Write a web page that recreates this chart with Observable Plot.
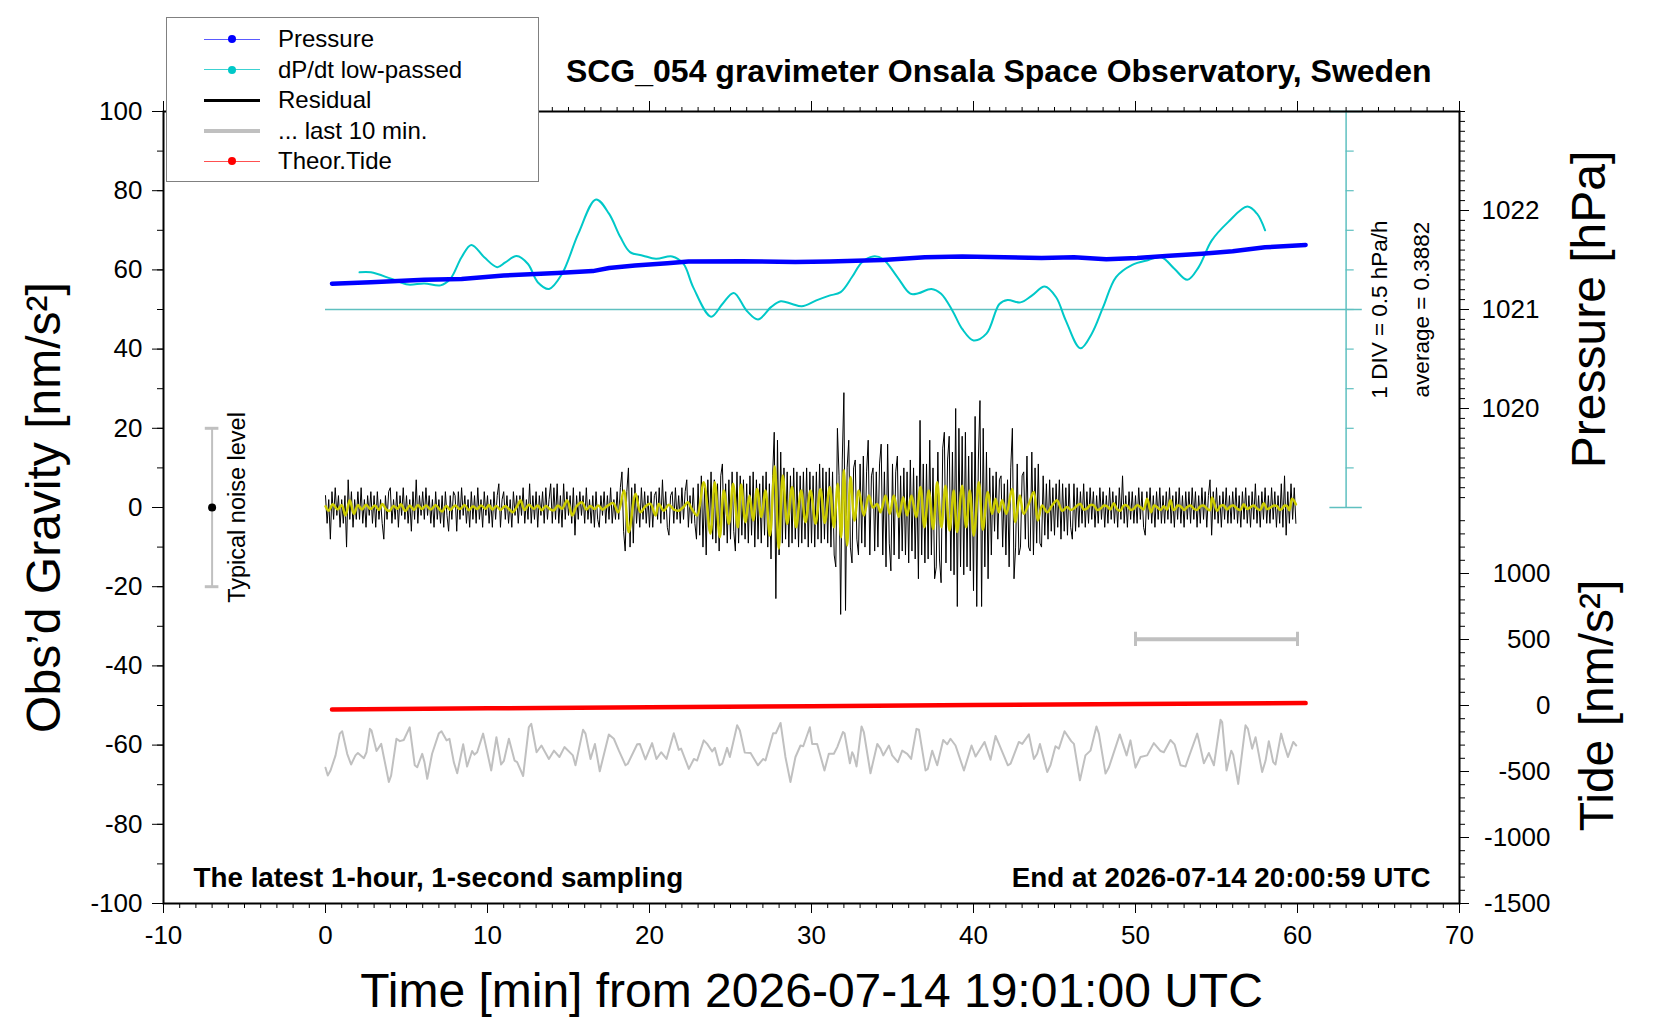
<!DOCTYPE html>
<html>
<head>
<meta charset="utf-8">
<script src="https://cdn.jsdelivr.net/npm/d3@7"></script>
<script src="https://cdn.jsdelivr.net/npm/@observablehq/plot@0.6"></script>
<style>
  body { margin: 0; background: #fff; }
  #wrap { position: relative; width: 1660px; height: 1020px; font-family: "Liberation Sans", Arial, Helvetica, sans-serif; }
  #legend { position: absolute; left: 166px; top: 17px; width: 373px; height: 165px; border: 1px solid #808080; background: #fff; box-sizing: border-box; }
  .row { position: absolute; left: 0; width: 100%; height: 30px; }
  .sym { position: absolute; left: 37px; width: 56px; top: 15px; }
  .dot { position: absolute; left: 61px; top: 11px; width: 8px; height: 8px; border-radius: 50%; }
  .lab { position: absolute; left: 111px; top: 0; line-height: 30px; font-size: 24px; color: #000; white-space: nowrap; }
</style>
</head>
<body>
<div id="wrap"><div id="chart"></div><div id="legend"></div></div>
<script>
// ---------------- data ----------------
const titleText = "SCG_054 gravimeter Onsala Space Observatory, Sweden";
const leftNote = "The latest 1-hour, 1-second sampling";
const rightNote = "End at 2026-07-14 20:00:59 UTC";
const xTitle = "Time [min] from 2026-07-14 19:01:00 UTC";
const yTitle = "Obs’d Gravity [nm/s²]";
const pressureTitle = "Pressure [hPa]";
const tideTitle = "Tide [nm/s²]";

const xMajorTicks = [-10, 0, 10, 20, 30, 40, 50, 60, 70];
const yMajorTicks = [-100, -80, -60, -40, -20, 0, 20, 40, 60, 80, 100];
const pressureMajorTicks = [1020, 1021, 1022];
const tideMajorTicks = [-1500, -1000, -500, 0, 500, 1000];

// axis mappings onto the gravity (left) scale
const pressureRange = [1015, 1023];   // hPa over the full frame height
const tideRange = [-1500, 4500];      // nm/s^2 over the full frame height
const dpdtAverage = 0.3882;           // hPa/h
const dpdtPerDiv = 0.5;               // hPa/h per division
const dpdtDivision = 10;              // gravity units per division
const dpdtAxisAt = 63;                // minutes

// Pressure [minute, hPa]
const pressure = [
  [0.4,1021.26],[2.8,1021.276],[6.1,1021.30],[8.4,1021.308],[11.0,1021.344],[14.3,1021.368],
  [16.5,1021.388],[17.5,1021.42],[19.1,1021.444],[21.1,1021.468],[22.4,1021.484],[25.7,1021.488],
  [29.0,1021.48],[31.1,1021.484],[34.4,1021.50],[37.0,1021.528],[39.3,1021.536],[41.9,1021.528],
  [44.2,1021.52],[46.2,1021.528],[48.2,1021.508],[50.1,1021.52],[52.1,1021.544],[54.1,1021.564],
  [56.0,1021.588],[58.0,1021.628],[60.5,1021.652]
];

// dP/dt low-passed [minute, hPa/h]
const dpdt = [
  [2.1,0.858],[2.8,0.858],[4.1,0.773],[5.1,0.703],[6.1,0.718],[7.1,0.693],[7.7,0.773],[8.4,1.048],
  [9.0,1.203],[9.8,1.048],[10.6,0.923],[11.1,0.983],[11.8,1.063],[12.5,0.963],[13.1,0.733],[13.8,0.648],
  [14.6,0.838],[15.6,1.343],[16.7,1.778],[17.5,1.598],[18.2,1.303],[18.8,1.113],[19.6,1.068],[20.4,1.028],
  [21.4,1.058],[22.1,0.963],[22.7,0.668],[23.8,0.298],[24.5,0.458],[25.2,0.598],[26.0,0.373],[26.7,0.263],
  [27.5,0.418],[28.1,0.493],[28.8,0.458],[29.4,0.428],[30.3,0.503],[31.1,0.563],[31.8,0.608],[32.5,0.798],
  [33.1,0.983],[33.8,1.058],[34.4,1.028],[35.3,0.798],[36.1,0.588],[36.6,0.593],[37.4,0.648],[38.0,0.588],
  [38.7,0.373],[39.3,0.143],[40.0,-0.002],[40.8,0.083],[41.6,0.458],[42.1,0.508],[42.9,0.478],[43.6,0.563],
  [44.4,0.678],[45.1,0.543],[45.7,0.248],[46.6,-0.102],[47.3,0.083],[48.0,0.418],[48.8,0.798],[49.8,0.953],
  [50.8,1.013],[51.6,1.048],[52.4,0.903],[53.2,0.763],[53.9,0.923],[54.7,1.258],[55.7,1.488],[56.9,1.688],
  [57.5,1.598],[58.0,1.388]
];

// Theoretical tide [minute, nm/s^2]
const tide = [[0.4,-30],[10,-21],[20,-13],[30,-5],[40,3],[50,11],[60.5,18]];

// Residual gravity, one value every 0.1 min [nm/s^2]
const residualStep = 0.1;
const residual = [
  3,-4,2,-8,4,-3,5,-2,3,-5,
  2,-4,3,-10,7,-3,4,-5,2,-3,
  4,-3,5,-4,2,-5,3,-2,4,-4,
  3,-5,4,-3,2,-4,-8,3,-3,4,
  5,-4,2,-3,4,-5,3,-2,5,-3,
  3,-4,2,-6,4,-3,7,-4,3,-2,
  4,-3,5,-2,3,-4,2,-5,4,-3,
  2,-4,3,-5,4,-2,-6,3,-3,4,
  3,-6,4,-3,5,-2,3,-4,2,-5,
  4,-3,3,-4,5,-3,2,-5,4,-2,
  3,-4,2,-5,4,-3,3,6,-5,2,
  4,-3,3,-4,2,-5,4,-2,3,-4,
  3,-2,5,-4,2,-3,6,-4,3,-3,
  4,-5,3,-2,4,-4,5,-3,2,6,
  -4,5,-3,6,-4,3,-5,6,-3,4,
  -2,3,-4,5,-7,3,-3,4,-2,3,
  -4,5,-3,2,-4,3,-5,4,-3,-5,
  3,-2,4,-4,3,-3,5,-4,2,-3,
  4,-3,5,9,-6,-11,4,10,-10,5,
  -9,6,-4,3,-5,5,-3,4,-4,3,
  -5,4,-5,3,4,-3,5,-4,7,-3,
  4,-5,-7,3,4,-4,5,-3,3,-4,
  5,-3,4,7,-5,3,-4,5,-4,-8,
  6,-7,8,-10,5,-12,7,-6,9,-8,
  7,-9,6,-11,8,11,-7,6,-9,7,
  -8,9,-6,-11,9,-9,8,-7,7,-8,
  6,-9,8,-7,9,-10,7,-8,6,-9,
  8,-7,9,-10,6,-13,8,19,-23,17,
  -12,14,-9,10,-8,9,-10,8,-9,10,
  -8,9,-10,8,-9,9,-8,10,-10,9,
  -9,8,-10,9,-8,11,-9,10,-8,9,
  -9,10,-10,9,-12,-15,20,8,-27,12,
  29,-26,10,17,-10,-14,10,12,-8,-12,
  11,-9,13,-10,9,17,-12,8,10,-11,
  9,-10,11,16,-12,9,-15,16,-9,-16,
  11,-12,9,13,-13,8,-11,10,-12,9,
  -14,12,-11,10,-13,8,-18,22,-12,11,
  -14,11,-13,17,-12,10,-18,-15,14,-13,
  -19,15,19,-14,12,18,-16,14,-17,25,
  -25,20,-15,18,-17,19,-15,13,-16,14,
  -21,23,-25,12,27,-25,20,-15,14,-18,
  10,-12,8,-6,9,-8,7,8,-10,6,
  -12,7,-15,10,20,-18,-10,11,-12,-10,
  8,9,-8,13,-10,-11,14,-12,10,-9,
  11,-9,-10,8,-7,6,-8,7,-6,5,
  -7,6,-5,7,-8,6,-6,5,-7,6,
  -5,-8,6,-6,5,-5,4,-4,6,-5,
  4,-4,5,-3,4,-5,3,-4,5,-3,
  4,-5,3,-4,5,-3,4,-4,3,-5,
  5,-3,8,-4,3,-5,4,-3,4,-4,
  3,-4,5,-3,4,-5,-7,4,-3,5,
  -4,3,-5,4,-3,5,-4,3,-4,4,
  -3,5,-4,3,-5,4,-3,5,-4,3,
  -5,4,-3,4,-4,5,-3,4,-5,3,
  -4,5,-3,4,-5,3,7,-7,4,-3,
  5,-4,3,-5,4,-3,5,-4,3,-4,
  4,-3,5,-4,3,-5,4,-3,5,-4,
  3,-5,4,-3,6,-4,3,-5,4,-3,
  5,-4,3,-4,5,-3,4,-5,3,-4,
  6,-5,8,-7,4,-4,6,-3,5,-4
];

// Filtered residual (yellow) [minute, nm/s^2]
const filtered = [
  [0.0,0.3],[0.2,-0.8],[0.45,0.8],[0.75,-0.5],[1.0,0.6],[1.23,-2.0],[1.5,1.8],[1.75,-1.6],[2.0,0.6],[2.25,-0.5],
  [2.5,0.7],[2.78,-0.4],[3.05,0.5],[3.3,-0.6],[3.5,0.9],[3.75,-0.5],[3.95,-0.9],[4.2,0.4],[4.45,-0.3],[4.65,0.8],
  [4.94,-0.9],[5.2,0.5],[5.45,-0.6],[5.7,0.6],[5.95,-0.4],[6.2,0.5],[6.5,-0.5],[6.8,0.6],[7.0,-0.3],[7.2,-1.0],
  [7.45,0.4],[7.7,-0.6],[8.0,0.5],[8.3,-0.4],[8.6,0.6],[8.85,-0.7],[9.1,0.3],[9.36,-0.4],[9.6,0.5],[9.88,-0.3],
  [10.1,0.6],[10.3,-0.5],[10.55,0.4],[10.8,-0.6],[11.1,0.4],[11.35,-0.5],[11.55,-1.2],[11.83,0.3],[12.04,1.8],[12.28,-0.6],
  [12.55,0.7],[12.86,-0.3],[13.1,0.5],[13.35,-0.7],[13.6,0.4],[13.85,-0.4],[14.1,-0.7],[14.35,0.5],[14.6,-0.3],[14.92,1.8],
  [15.23,-2.0],[15.5,0.3],[15.84,1.3],[16.1,-0.5],[16.35,0.4],[16.6,-0.4],[16.85,0.5],[17.1,-0.5],[17.4,0.4],[17.76,1.1],
  [18.07,-1.2],[18.42,4.3],[18.72,-6.2],[19.14,3.5],[19.44,-1.2],[19.75,0.3],[20.06,0.9],[20.37,-2.0],[20.57,0.9],[20.88,-0.8],
  [21.19,0.7],[21.5,-0.5],[21.81,-0.8],[22.12,0.2],[22.36,1.3],[22.63,-0.5],[22.94,-2.0],
  [23.35,6.4],[23.76,-6.6],[24.03,6.4],[24.34,-7.5],[24.59,4.3],[24.9,-4.1],[25.16,6.0],[25.45,-5.0],[25.66,5.8],[25.92,-3.7],
  [26.17,3.0],[26.4,-3.3],[26.64,4.7],[26.91,-2.4],[27.16,4.3],[27.43,-7.1],[27.73,10.4],[27.98,-10.4],[28.23,8.1],[28.5,-4.1],
  [28.8,5.2],[29.05,-5.0],[29.36,4.3],[29.63,-3.7],[29.94,4.3],[30.25,-4.1],[30.55,4.7],[30.82,-3.9],[31.13,5.2],[31.38,-5.0],
  [31.62,6.0],[31.83,-7.5],[32.0,9.5],[32.2,-9.6],[32.41,7.7],[32.65,-3.3],[32.92,4.3],[33.23,-2.0],[33.54,3.0],[33.8,0.0],
  [34.05,0.9],[34.26,-1.2],[34.57,3.0],[34.83,-1.6],[35.08,3.0],[35.39,-2.4],[35.66,2.6],[35.9,-2.0],[36.17,3.0],[36.46,-2.4],
  [36.73,5.2],[36.97,-5.0],[37.24,4.3],[37.51,-5.4],[37.76,6.4],[38.02,-5.0],[38.27,5.5],[38.52,-5.8],[38.78,4.3],[38.99,-6.2],
  [39.3,5.5],[39.55,-5.0],[39.77,4.3],[40.02,-7.1],[40.33,6.4],[40.58,-5.6],[40.88,3.9],[41.15,-1.6],[41.36,2.2],[41.56,-1.2],
  [41.77,1.8],[42.03,-1.6],[42.38,4.7],[42.59,-3.7],[42.86,3.0],[43.1,-1.6],[43.41,0.9],[43.72,3.9],[43.97,-3.3],[44.24,0.5],
  [44.55,-1.2],[44.85,0.5],[45.16,1.8],[45.47,-0.8],
  [45.78,0.1],[46.0,-0.6],[46.19,-0.3],[46.4,0.5],[46.6,0.9],[46.8,-0.5],[47.0,-0.3],[47.2,0.6],[47.43,0.5],[47.64,-0.6],
  [47.84,-0.3],[48.05,0.5],[48.25,0.3],[48.45,-0.5],[48.66,1.1],[48.86,-0.4],[49.07,-0.8],[49.27,0.5],[49.48,0.5],[49.7,-0.6],
  [49.9,-0.3],[50.1,0.6],[50.3,0.1],[50.5,-0.5],[50.72,2.2],[50.96,-1.2],[51.15,0.5],[51.33,0.1],[51.55,-0.6],[51.75,0.3],
  [51.95,-0.5],[52.16,1.8],[52.33,-0.6],[52.47,-0.3],[52.6,0.5],[52.78,0.3],[53.0,-0.6],[53.19,0.1],[53.4,0.5],[53.6,-0.3],
  [53.8,-0.6],[54.0,0.3],[54.2,0.5],[54.42,-0.3],[54.6,-0.7],[54.73,2.5],[55.04,-0.8],[55.25,0.4],[55.45,0.5],[55.65,-0.5],
  [55.86,0.3],[56.05,0.5],[56.27,-0.3],[56.48,-0.6],[56.68,0.8],[56.9,-0.4],[57.1,0.1],[57.3,0.5],[57.51,-0.3],[57.7,-0.6],
  [57.92,1.1],[58.12,-0.4],[58.33,0.0],[58.54,0.5],[58.74,0.3],[58.9,-0.6],[59.05,-0.3],[59.2,0.5],[59.36,0.3],[59.5,-0.7],
  [59.67,2.2],[59.9,0.8]
];

// "... last 10 min." residual, stretched over the plot width [display minute, nm/s^2 as plotted]
const lastTenMin = [
  [0.0,-65.7],[0.14,-67.7],[0.31,-66.4],[0.62,-62.6],[0.88,-57.1],[1.03,-56.5],[1.34,-62.2],[1.58,-64.9],[1.85,-62.6],[2.0,-62.0],
  [2.37,-63.3],[2.53,-61.8],[2.74,-55.9],[2.84,-56.3],[3.15,-61.5],[3.44,-59.7],[3.6,-63.0],[3.91,-69.3],[4.05,-67.7],[4.38,-58.4],
  [4.59,-59.0],[4.83,-58.7],[5.2,-55.5],[5.51,-65.1],[5.66,-65.6],[5.97,-62.2],[6.11,-64.3],[6.28,-68.5],[6.58,-62.2],[6.99,-57.1],
  [7.16,-56.5],[7.47,-58.8],[7.65,-58.4],[7.92,-64.3],[8.13,-67.1],[8.5,-59.8],[8.74,-65.4],[9.05,-61.5],[9.2,-62.4],[9.36,-61.8],
  [9.73,-57.1],[10.23,-66.4],[10.55,-58.0],[10.84,-64.9],[11.01,-64.0],[11.32,-58.4],[11.67,-63.9],[11.83,-64.3],[12.2,-67.8],[12.55,-55.5],
  [12.7,-54.6],[13.03,-61.8],[13.33,-60.1],[13.79,-63.5],[14.1,-61.4],[14.44,-63.0],[14.75,-60.5],[15.27,-62.6],[15.43,-65.1],[15.9,-56.1],
  [16.05,-57.1],[16.36,-63.5],[16.63,-59.7],[16.93,-66.6],[17.49,-57.3],[17.8,-58.4],[18.11,-61.4],[18.52,-65.1],[18.66,-64.7],[19.24,-59.8],
  [19.4,-59.7],[19.75,-63.6],[20.16,-59.5],[20.43,-63.5],[20.72,-61.8],[21.05,-63.5],[21.5,-57.0],[21.81,-61.2],[21.95,-60.9],[22.43,-66.0],
  [22.74,-63.5],[22.94,-63.9],[23.35,-58.8],[23.56,-59.7],[23.87,-61.6],[24.03,-60.7],[24.32,-65.1],[24.49,-64.7],[24.79,-60.7],[24.96,-63.0],
  [25.41,-55.0],[25.58,-56.3],[25.88,-61.9],[26.24,-62.0],[26.69,-65.1],[27.02,-63.5],[27.16,-63.9],[27.63,-57.0],[27.8,-57.0],[28.09,-54.4],
  [28.39,-63.0],[28.7,-69.3],[29.01,-63.0],[29.32,-60.1],[29.49,-60.3],[29.9,-55.5],[30.04,-59.7],[30.35,-59.7],[30.8,-66.4],[31.07,-62.2],
  [31.38,-62.2],[31.59,-60.5],[31.94,-56.7],[32.04,-57.0],[32.37,-64.6],[32.51,-61.8],[32.61,-62.6],[32.78,-65.4],[33.09,-55.3],[33.23,-56.7],
  [33.64,-67.1],[34.06,-59.7],[34.26,-60.9],[34.43,-62.6],[34.78,-60.1],[34.98,-62.6],[35.33,-64.3],[35.6,-61.4],[35.91,-62.2],[36.15,-63.5],
  [36.48,-55.9],[36.63,-56.1],[37.04,-66.4],[37.18,-66.0],[37.45,-61.4],[37.76,-65.1],[38.13,-58.7],[38.38,-59.8],[38.58,-58.4],[38.89,-60.1],
  [39.41,-66.4],[39.88,-60.1],[40.13,-62.9],[40.68,-59.2],[41.05,-63.7],[41.36,-57.7],[41.57,-59.7],[42.12,-65.1],[42.29,-64.7],[42.8,-59.2],
  [43.01,-59.7],[43.42,-57.3],[43.73,-63.5],[43.93,-62.2],[44.1,-59.7],[44.55,-66.8],[44.75,-65.1],[45.06,-60.3],[45.27,-60.9],[45.62,-56.5],
  [46.03,-59.0],[46.2,-59.7],[46.57,-68.9],[46.91,-62.6],[47.22,-61.4],[47.59,-55.3],[47.74,-57.1],[48.15,-67.2],[48.36,-65.6],[49.03,-57.3],
  [49.45,-62.6],[49.69,-58.8],[50.0,-65.7],[50.31,-63.0],[50.72,-62.6],[51.13,-59.5],[51.55,-61.5],[51.75,-61.8],[52.16,-58.7],[52.41,-59.8],
  [52.78,-65.1],[53.09,-65.4],[53.29,-63.0],[53.81,-57.1],[53.91,-58.8],[54.22,-64.6],[54.53,-62.0],[54.84,-65.1],[55.25,-53.6],[55.35,-54.2],
  [55.62,-66.4],[55.91,-61.4],[56.03,-62.4],[56.34,-69.8],[56.79,-55.0],[56.94,-55.9],[57.2,-60.9],[57.41,-58.0],[57.82,-66.8],[58.03,-63.9],
  [58.23,-59.0],[58.5,-64.3],[58.64,-64.9],[58.99,-57.1],[59.16,-59.7],[59.41,-63.0],[59.74,-59.2],[59.92,-60.1]
];

// annotations
const noiseAt = -7, noiseHalf = 20;           // typical noise level bar
const lastTenBar = {x1: 50, x2: 60, y: -33.3}; // marks the last 10 minutes
const noiseLabelAt = -5.45;
const divLabelAt = 65.1, avgLabelAt = 67.7;

// legend
const legendLabels = ["Pressure", "dP/dt low-passed", "Residual", "... last 10 min.", "Theor.Tide"];
const legendLine = ["#5a5aff", "#3cd2d2", "#000000", "#c0c0c0", "#ff5050"];
const legendLineWidth = [1, 1, 3, 4, 1];
const legendDot = ["#0000ff", "#00c8c8", null, null, "#ff0000"];

// ---------------- helpers ----------------
const gOfP = p => (p - pressureRange[0]) / (pressureRange[1] - pressureRange[0]) * 200 - 100;
const pOfG = g => pressureRange[0] + (g + 100) / 200 * (pressureRange[1] - pressureRange[0]);
const gOfT = t => (t - tideRange[0]) / (tideRange[1] - tideRange[0]) * 200 - 100;
const tOfG = g => tideRange[0] + (g + 100) / 200 * (tideRange[1] - tideRange[0]);
const gOfD = v => 50 + (v - dpdtAverage) / dpdtPerDiv * dpdtDivision;

const residualData = residual.map((v, i) => ({t: i * residualStep, v}));
const pressureMinor = d3.range(10191, 10231).map(i => i / 10);
const tideMinor = d3.range(-1500, 1401, 100);
const dpdtTicks = d3.range(0, 101, dpdtDivision);

const cyan = "#00c8c8", teal = "#5fc0c0", grey = "#c0c0c0", yellow = "#cccc00";
const font = "'Liberation Sans', Arial, Helvetica, sans-serif";
const tickFont = 26;

const chart = Plot.plot({
  width: 1660, height: 1020,
  marginLeft: 163, marginRight: 201, marginTop: 111, marginBottom: 117,
  x: {domain: [-10, 70], axis: null},
  y: {domain: [-100, 100], axis: null},
  style: {background: "white", fontFamily: font, fontSize: "25px", overflow: "visible", color: "black"},
  marks: [
    // residual traces
    Plot.line(residualData, {x: "t", y: "v", stroke: "black", strokeWidth: 1}),
    Plot.line(filtered, {x: d => d[0], y: d => d[1], stroke: yellow, strokeWidth: 2.5, curve: "catmull-rom"}),
    // dP/dt
    Plot.ruleY([dpdtAverage], {y: gOfD, x1: 0, x2: dpdtAxisAt + 1, stroke: teal, strokeWidth: 1.5}),
    Plot.ruleX([dpdtAxisAt], {y1: 0, y2: 100, stroke: teal, strokeWidth: 1.5}),
    Plot.ruleY(dpdtTicks.slice(1, -1), {y: d => d, x1: dpdtAxisAt, x2: dpdtAxisAt + 0.5, stroke: teal, strokeWidth: 1.2}),
    Plot.ruleY([0, 100], {y: d => d, x1: dpdtAxisAt - 1, x2: dpdtAxisAt + 1, stroke: teal, strokeWidth: 1.5}),
    Plot.line(dpdt, {x: d => d[0], y: d => gOfD(d[1]), stroke: cyan, strokeWidth: 2, curve: "catmull-rom"}),
    // pressure
    Plot.line(pressure, {x: d => d[0], y: d => gOfP(d[1]), stroke: "#0000ff", strokeWidth: 4.5}),
    // tide
    Plot.line(tide, {x: d => d[0], y: d => gOfT(d[1]), stroke: "#ff0000", strokeWidth: 4.5}),
    // last 10 min
    Plot.line(lastTenMin, {x: d => d[0], y: d => d[1], stroke: grey, strokeWidth: 2}),
    Plot.ruleY([lastTenBar], {y: "y", x1: "x1", x2: "x2", stroke: grey, strokeWidth: 4}),
    Plot.ruleX([lastTenBar.x1, lastTenBar.x2], {x: d => d, y1: lastTenBar.y - 1.8, y2: lastTenBar.y + 1.8, stroke: grey, strokeWidth: 3}),
    // noise bar
    Plot.ruleX([noiseAt], {y1: -noiseHalf, y2: noiseHalf, stroke: grey, strokeWidth: 2}),
    Plot.ruleY([-noiseHalf, noiseHalf], {y: d => d, x1: noiseAt - 0.42, x2: noiseAt + 0.42, stroke: grey, strokeWidth: 3}),
    Plot.dot([0], {x: () => noiseAt, y: d => d, r: 4, fill: "black", stroke: null}),
    Plot.text(["Typical noise level"], {x: () => noiseLabelAt, y: () => 0, text: d => d, rotate: -90, fontSize: 23.5}),
    Plot.text(["1 DIV = " + dpdtPerDiv + " hPa/h"], {x: () => divLabelAt, y: () => gOfD(dpdtAverage), text: d => d, rotate: -90, fontSize: 22.5}),
    Plot.text(["average = " + dpdtAverage], {x: () => avgLabelAt, y: () => gOfD(dpdtAverage), text: d => d, rotate: -90, fontSize: 22.5}),
    // frame and axes
    Plot.frame({stroke: "black", strokeWidth: 2}),
    Plot.axisX(xMajorTicks, {anchor: "bottom", tickSize: 10, tickPadding: 12, tickFormat: d => String(d), fontSize: tickFont, label: null}),
    Plot.axisX(d3.range(-10, 71), {anchor: "bottom", tickSize: 5, fill: "none", label: null}),
    Plot.axisX(xMajorTicks, {anchor: "top", tickSize: 11, fill: "none", label: null}),
    Plot.axisX(d3.range(-10, 71), {anchor: "top", tickSize: 5, fill: "none", label: null}),
    Plot.axisY(yMajorTicks, {anchor: "left", tickSize: 11, tickPadding: 10, tickFormat: d => String(d), fontSize: tickFont, label: null}),
    Plot.axisY(d3.range(-100, 101, 10), {anchor: "left", tickSize: 6, fill: "none", label: null}),
    Plot.axisY(pressureMajorTicks.map(gOfP), {anchor: "right", tickSize: 9, tickPadding: 13, tickFormat: g => String(Math.round(pOfG(g))), fontSize: tickFont, label: null}),
    Plot.axisY(pressureMinor.map(gOfP), {anchor: "right", tickSize: 5, fill: "none", label: null}),
    Plot.axisY(tideMajorTicks.map(gOfT), {anchor: "right", tickSize: 9, tickPadding: 82, textAnchor: "end", tickFormat: g => String(Math.round(tOfG(g))), fontSize: tickFont, label: null}),
    Plot.axisY(tideMinor.map(gOfT), {anchor: "right", tickSize: 5, fill: "none", label: null}),
    // titles
    Plot.text([titleText], {frameAnchor: "top-right", textAnchor: "end", dx: -28, dy: -40, text: d => d, fontSize: 32, fontWeight: "bold", lineAnchor: "middle"}),
    Plot.text([leftNote], {frameAnchor: "bottom-left", textAnchor: "start", dx: 30, dy: -25, text: d => d, fontSize: 27.8, fontWeight: "bold", lineAnchor: "middle"}),
    Plot.text([rightNote], {frameAnchor: "bottom-right", textAnchor: "end", dx: -29, dy: -25, text: d => d, fontSize: 27.8, fontWeight: "bold", lineAnchor: "middle"}),
    Plot.text([xTitle], {frameAnchor: "bottom", dy: 88, text: d => d, fontSize: 48, lineAnchor: "middle"}),
    Plot.text([yTitle], {frameAnchor: "left", textAnchor: "middle", dx: -119, text: d => d, fontSize: 48, rotate: -90, lineAnchor: "middle"}),
    Plot.text([pressureTitle], {frameAnchor: "right", textAnchor: "middle", y: () => gOfP(1021), dx: 130, text: d => d, fontSize: 48, rotate: -90, lineAnchor: "middle"}),
    Plot.text([tideTitle], {frameAnchor: "right", textAnchor: "middle", y: () => gOfT(0), dx: 138, text: d => d, fontSize: 48, rotate: -90, lineAnchor: "middle"})
  ]
});
document.getElementById("chart").appendChild(chart);

// legend (HTML overlay above the plot frame)
const legend = document.getElementById("legend");
legendLabels.forEach((label, i) => {
  const row = document.createElement("div");
  row.className = "row";
  row.style.top = (6 + i * 30.5) + "px";
  const line = document.createElement("div");
  line.className = "sym";
  line.style.borderTop = legendLineWidth[i] + "px solid " + legendLine[i];
  line.style.marginTop = (-legendLineWidth[i] / 2) + "px";
  row.appendChild(line);
  if (legendDot[i]) {
    const dot = document.createElement("div");
    dot.className = "dot";
    dot.style.background = legendDot[i];
    row.appendChild(dot);
  }
  const txt = document.createElement("div");
  txt.className = "lab";
  txt.textContent = label;
  row.appendChild(txt);
  legend.appendChild(row);
});
</script>
</body>
</html>
